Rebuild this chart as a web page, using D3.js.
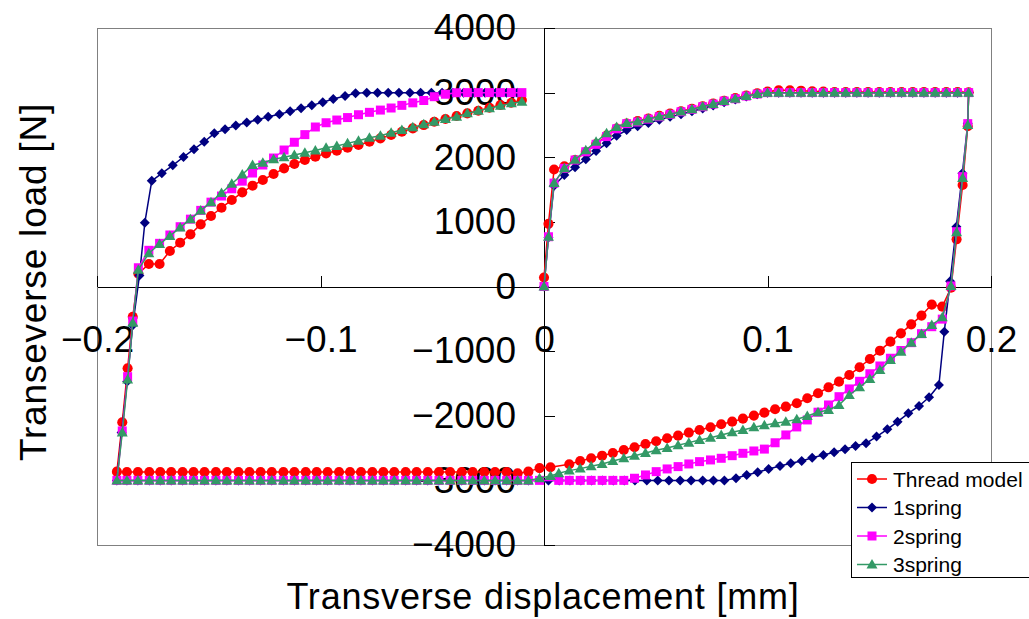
<!DOCTYPE html>
<html>
<head>
<meta charset="utf-8">
<script src="https://cdn.jsdelivr.net/npm/d3@7"></script>
<style>
  body { margin: 0; background: #fff; }
  svg { display: block; }
  text { font-family: "Liberation Sans", Arial, sans-serif; fill: #000; }
</style>
</head>
<body>
<svg id="chart" width="1029" height="619"></svg>
<script>
// ---- Legend / series names --------------------------------------------
const seriesNames = ["Thread model", "1spring", "2spring", "3spring"];
const seriesColors = ["#ff0000", "#000080", "#ff00ff", "#339966"];
const seriesShapes = ["circle", "diamond", "square", "triangle"];

// ---- Axis ticks ---------------------------------------------------------
const xTicks = [-0.2, -0.1, 0, 0.1, 0.2];
const xTickLabels = ["\u22120.2", "\u22120.1", "0", "0.1", "0.2"];
const yTicks = [-4000, -3000, -2000, -1000, 0, 1000, 2000, 3000, 4000];
const yTickLabels = ["\u22124000", "\u22123000", "\u22122000", "\u22121000", "0", "1000", "2000", "3000", "4000"];

// ---- Displacement [mm] for each branch of the loop ---------------------
// first loading, 0 -> +0.19
const loadDisp = [0, 0.002, 0.0045, 0.0091, 0.0139, 0.0187, 0.0233, 0.028, 0.0325, 0.037,
  0.0419, 0.0467, 0.0516, 0.0564, 0.0613, 0.0662, 0.071, 0.0757, 0.0806, 0.0856,
  0.0905, 0.0954, 0.1, 0.105, 0.11, 0.115, 0.12, 0.125, 0.13, 0.135,
  0.14, 0.145, 0.15, 0.155, 0.16, 0.165, 0.17, 0.175, 0.18, 0.185, 0.19];
// unloading from +0.19 back to 0
const unloadDisp = [0.1896, 0.1873, 0.1846, 0.1821, 0.1782, 0.1735, 0.1689, 0.1643, 0.1597, 0.155,
  0.1503, 0.1458, 0.1412, 0.1366, 0.132, 0.1273, 0.1226, 0.1178, 0.1131, 0.1082,
  0.1034, 0.0986, 0.0939, 0.089, 0.0842, 0.0793, 0.0745, 0.0696, 0.0648, 0.06,
  0.0551, 0.0502, 0.0454, 0.0405, 0.0357, 0.0308, 0.026, 0.0211, 0.0162, 0.0113,
  0.0066, 0.0029, -0.002];
const unloadDisp1 = [0.1896, 0.1872, 0.1845, 0.1817, 0.1791, 0.1767, 0.1723, 0.1678, 0.163, 0.1582,
  0.1536, 0.1488, 0.1441, 0.1394, 0.1347, 0.1298, 0.125, 0.12, 0.1153, 0.1104,
  0.1056, 0.1005, 0.0956, 0.0907, 0.0859, 0.0807, 0.0758, 0.071, 0.0658, 0.0609,
  0.0559, 0.0509, 0.046, 0.0407, 0.0359, 0.031, 0.0262, 0.0213, 0.0165, 0.0116,
  0.0068, 0.002];
// negative side, sliding at the load limit
const flatDisp = [-0.007, -0.0118, -0.0167, -0.0219, -0.0267, -0.0319, -0.0368, -0.042, -0.047, -0.052,
  -0.057, -0.0619, -0.067, -0.0719, -0.0768, -0.0819, -0.0868, -0.0917, -0.0968, -0.1017,
  -0.1066, -0.1117, -0.1166, -0.1218, -0.1268, -0.1318, -0.1367, -0.1419, -0.1468, -0.1519,
  -0.1568, -0.1617, -0.1668, -0.1717, -0.1766, -0.1817, -0.1866, -0.1911];
// reloading from -0.19 back towards 0
const reloadDisp = [-0.1887, -0.1863, -0.184, -0.1815, -0.1768, -0.172, -0.1674, -0.1628, -0.1582, -0.1536,
  -0.149, -0.1443, -0.1397, -0.135, -0.1304, -0.1258, -0.121, -0.1163, -0.1117, -0.107,
  -0.1023, -0.0975, -0.0927, -0.0879, -0.083, -0.0781, -0.0732, -0.0684, -0.0636, -0.0587,
  -0.0538, -0.0491, -0.0441, -0.0391, -0.0343, -0.0294, -0.0244, -0.0195, -0.0146, -0.0099];
const reloadDisp1 = [-0.189, -0.1865, -0.184, -0.181, -0.1786, -0.1755, -0.171, -0.1661, -0.1613, -0.1566,
  -0.152, -0.1475, -0.1427, -0.1379, -0.133, -0.1281, -0.1234, -0.1184, -0.1136, -0.1087,
  -0.1039, -0.099, -0.0943, -0.089, -0.0843, -0.0793, -0.0745, -0.0697, -0.0649, -0.06,
  -0.0552, -0.0504, -0.0456, -0.0408, -0.036, -0.0312, -0.0264, -0.0216, -0.0168, -0.012];

// ---- Transverse load [N] -------------------------------------------------
// Thread model
const threadLoad = [140, 970, 1810, 1860, 1955, 2080, 2205, 2335, 2445, 2520,
  2560, 2600, 2640, 2675, 2712, 2750, 2790, 2830, 2875, 2915,
  2955, 2990, 3015, 3035, 3035, 3030, 3020, 3015, 3010, 3010,
  3010, 3010, 3010, 3010, 3010, 3010, 3010, 3010, 3010, 3010, 3005];
const threadUnload = [2480, 1570, 730, -20, -312, -280, -450, -586, -725, -853,
  -993, -1122, -1250, -1369, -1472, -1560, -1652, -1730, -1807, -1859,
  -1900, -1952, -1998, -2045, -2091, -2132, -2178, -2220, -2261, -2308,
  -2349, -2395, -2437, -2488, -2530, -2576, -2618, -2658, -2700, -2751,
  null, -2797, -2810];
const threadFlat = [-2865, -2890, -2870, -2870, -2870, -2870, -2870, -2870, -2870, -2870,
  -2870, -2870, -2870, -2870, -2870, -2870, -2870, -2870, -2870, -2870,
  -2870, -2870, -2870, -2870, -2870, -2870, -2870, -2870, -2870, -2870,
  -2870, -2870, -2870, -2870, -2870, -2870, -2870, -2865];
const threadReload = [-2100, -1265, -470, 200, 348, 348, 549, 678, 807, 962,
  1091, 1219, 1338, 1457, 1560, 1648, 1740, 1828, 1895, 1957,
  2008, 2060, 2101, 2148, 2189, 2240, 2292, 2344, 2395, 2447,
  2498, 2550, 2591, 2638, 2679, 2720, 2766, 2808, 2843, 2885];

// 1spring
const spring1Load = [0, 760, 1560, 1725, 1845, 1968, 2096, 2215, 2333, 2421,
  2480, 2530, 2580, 2625, 2665, 2710, 2755, 2800, 2850, 2895,
  2940, 2975, 3000, 3000, 3000, 3000, 3000, 3000, 3000, 3000,
  3000, 3000, 3000, 3000, 3000, 3000, 3000, 3000, 3000, 3000, 3000];
const spring1Unload = [2525, 1751, 925, 80, -699, -1524, -1714, -1849, -1962, -2091,
  -2210, -2323, -2426, -2468, -2519, -2566, -2607, -2649, -2700, -2735,
  -2777, -2825, -2874, -2916, -2967, -3000, -3000, -3000, -3000, -3000,
  -3000, -3000, -3000, -3000, -3000, -3000, -3000, -3000, -3000, -3000,
  -3000, -3000];
const spring1Flat = [-3000, -3000, -3000, -3000, -3000, -3000, -3000, -3000, -3000, -3000,
  -3000, -3000, -3000, -3000, -3000, -3000, -3000, -3000, -3000, -3000,
  -3000, -3000, -3000, -3000, -3000, -3000, -3000, -3000, -3000, -3000,
  -3000, -3000, -3000, -3000, -3000, -3000, -3000, -3000];
const spring1Reload = [-2260, -1470, -600, 170, 987, 1635, 1751, 1875, 2004, 2125,
  2240, 2370, 2434, 2490, 2538, 2581, 2627, 2664, 2710, 2757,
  2803, 2852, 2901, 2947, 2989, 3000, 3000, 3000, 3000, 3000,
  3000, 3000, 3000, 3000, 3000, 3000, 3000, 3000, 3000, 3000];

// 2spring
const spring2Load = [0, 770, 1600, 1828, 1957, 2085, 2200, 2320, 2440, 2520,
  2545, 2590, 2627, 2664, 2704, 2741, 2782, 2823, 2870, 2905,
  2947, 2978, 3000, 3000, 3000, 3000, 3000, 3000, 3000, 3000,
  3000, 3000, 3000, 3000, 3000, 3000, 3000, 3000, 3000, 3000, 3000];
const spring2Unload = [2520, 1700, 848, 8, -505, -622, -730, -869, -990, -1110,
  -1230, -1350, -1467, -1585, -1705, -1833, -1945, -2065, -2173, -2297,
  -2418, -2516, -2545, -2581, -2618, -2658, -2684, -2710, -2746, -2787,
  -2823, -2865, -2916, -2967, -3000, -3000, -3000, -3000, -3000, -3000,
  -3000, null, -3000];
const spring2Flat = [-3000, -3000, -3000, -3000, -3000, -3000, -3000, -3000, -3000, -3000,
  -3000, -3000, -3000, -3000, -3000, -3000, -3000, -3000, -3000, -3000,
  -3000, -3000, -3000, -3000, -3000, -3000, -3000, -3000, -3000, -3000,
  -3000, -3000, -3000, -3000, -3000, -3000, -3000, -3000];
const spring2Reload = [-2235, -1395, -534, 290, 560, 668, 797, 925, 1042, 1178,
  1305, 1400, 1512, 1630, 1756, 1880, 1988, 2112, 2232, 2350,
  2468, 2534, 2576, 2614, 2658, 2695, 2730, 2762, 2803, 2842,
  2878, 2937, 2975, 2998, 3000, 3000, 3000, 3000, 3000, 3000];

// 3spring
const spring3Load = [0, 770, 1600, 1830, 1962, 2110, 2240, 2370, 2470, 2530,
  2555, 2595, 2630, 2666, 2706, 2743, 2784, 2825, 2872, 2907,
  2948, 2980, 3000, 3000, 3000, 3000, 3000, 3000, 3000, 3000,
  3000, 3000, 3000, 3000, 3000, 3000, 3000, 3000, 3000, 3000, 3000];
const spring3Unload = [2500, 1680, 840, 8, -477, -596, -735, -869, -1009, -1137,
  -1292, -1431, -1560, -1679, -1833, -1911, -1947, -2003, -2055, -2091,
  -2117, -2148, -2178, -2220, -2256, -2297, -2339, -2375, -2416, -2457,
  -2498, -2534, -2576, -2618, -2658, -2700, -2746, -2782, -2818, -2849,
  -2890, -2931, -2967];
const spring3Flat = [-3000, -3000, -3000, -3000, -3000, -3000, -3000, -3000, -3000, -3000,
  -3000, -3000, -3000, -3000, -3000, -3000, -3000, -3000, -3000, -3000,
  -3000, -3000, -3000, -3000, -3000, -3000, -3000, -3000, -3000, -3000,
  -3000, -3000, -3000, -3000, -3000, -3000, -3000, -3000];
const spring3Reload = [-2260, -1440, -560, 260, 514, 657, 781, 912, 1042, 1175,
  1305, 1446, 1590, 1732, 1880, 1915, 1968, 1999, 2034, 2070,
  2106, 2148, 2173, 2215, 2256, 2302, 2333, 2380, 2421, 2463,
  2509, 2550, 2591, 2627, 2679, 2720, 2757, 2797, 2834, 2860];

// ---- Build the loops -------------------------------------------------------
function branchPoints(disp, load) {
  return disp.map((d, i) => [d, load[i]]).filter(p => p[1] !== null);
}
function loop(branches) {
  return branches.flatMap(([d, l]) => branchPoints(d, l));
}
const seriesPoints = [
  loop([[loadDisp, threadLoad], [unloadDisp, threadUnload], [flatDisp, threadFlat], [reloadDisp, threadReload]]),
  loop([[loadDisp, spring1Load], [unloadDisp1, spring1Unload], [flatDisp, spring1Flat], [reloadDisp1, spring1Reload]]),
  loop([[loadDisp, spring2Load], [unloadDisp, spring2Unload], [flatDisp, spring2Flat], [reloadDisp, spring2Reload]]),
  loop([[loadDisp, spring3Load], [unloadDisp, spring3Unload], [flatDisp, spring3Flat], [reloadDisp, spring3Reload]])
];

// ---- Layout ---------------------------------------------------------------
const svg = d3.select("#chart");
const plot = { left: 97, right: 991, top: 28, bottom: 545 };

const x = d3.scaleLinear().domain([-0.2, 0.2]).range([plot.left, plot.right]);
const y = d3.scaleLinear().domain([-4000, 4000]).range([plot.bottom, plot.top]);

// plot area frame
svg.append("rect")
  .attr("x", plot.left + 0.5).attr("y", plot.top + 0.5)
  .attr("width", plot.right - plot.left).attr("height", plot.bottom - plot.top)
  .attr("fill", "#fff").attr("stroke", "#808080").attr("stroke-width", 1);

// axes crossing at the origin
const xAxis = d3.axisBottom(x)
  .tickValues(xTicks)
  .tickFormat((d, i) => xTickLabels[i])
  .tickSizeInner(-11).tickSizeOuter(0).tickPadding(39);
const yAxis = d3.axisLeft(y)
  .tickValues(yTicks)
  .tickFormat((d, i) => yTickLabels[i])
  .tickSizeInner(-11).tickSizeOuter(0).tickPadding(28);

const gx = svg.append("g").attr("transform", `translate(0,${y(0)})`).call(xAxis);
const gy = svg.append("g").attr("transform", `translate(${x(0)},0)`).call(yAxis);
[gx, gy].forEach(g => {
  g.attr("font-family", null).attr("font-size", null);
  g.selectAll("path, line").attr("stroke", "#000").attr("stroke-width", 1).attr("shape-rendering", "crispEdges");
  g.selectAll("text").attr("font-size", 37).attr("fill", "#000");
});

// axis titles
svg.append("text")
  .attr("transform", "translate(46,282) rotate(-90)")
  .attr("text-anchor", "middle")
  .attr("font-size", 37).attr("letter-spacing", 0.8)
  .text("Transeverse load [N]");
svg.append("text")
  .attr("x", 543).attr("y", 609)
  .attr("text-anchor", "middle")
  .attr("font-size", 36).attr("letter-spacing", 0.8)
  .text("Transverse displacement [mm]");

// ---- Markers ------------------------------------------------------------------
const shapePaths = {
  circle: d3.symbol(d3.symbolCircle, 80)(),
  diamond: "M0,-5L5,0L0,5L-5,0Z",
  square: d3.symbol(d3.symbolSquare, 81)(),
  triangle: "M0,-5.5L5.5,4L-5.5,4Z"
};

const line = d3.line().x(d => x(d[0])).y(d => y(d[1]));

seriesPoints.forEach((pts, i) => {
  const g = svg.append("g");
  g.append("path")
    .attr("d", line(pts))
    .attr("fill", "none")
    .attr("stroke", seriesColors[i])
    .attr("stroke-width", 1.5)
    .attr("stroke-linejoin", "round");
  g.selectAll("path.marker")
    .data(pts)
    .join("path")
    .attr("class", "marker")
    .attr("d", shapePaths[seriesShapes[i]])
    .attr("transform", d => `translate(${x(d[0])},${y(d[1])})`)
    .attr("fill", seriesColors[i]);
});

// ---- Legend ---------------------------------------------------------------------
const legend = svg.append("g").attr("transform", "translate(851,462)");
legend.append("rect")
  .attr("x", 0.5).attr("y", 0.5)
  .attr("width", 190).attr("height", 115)
  .attr("fill", "#fff").attr("stroke", "#000").attr("stroke-width", 1);
const rows = legend.selectAll("g.row")
  .data(seriesNames)
  .join("g")
  .attr("class", "row")
  .attr("transform", (d, i) => `translate(0,${17 + i * 28.5})`);
rows.append("line")
  .attr("x1", 6).attr("x2", 36).attr("y1", 0).attr("y2", 0)
  .attr("stroke", (d, i) => seriesColors[i]).attr("stroke-width", 1.5);
rows.append("path")
  .attr("d", (d, i) => shapePaths[seriesShapes[i]])
  .attr("transform", "translate(21,0)")
  .attr("fill", (d, i) => seriesColors[i]);
rows.append("text")
  .attr("x", 42).attr("y", 0).attr("dy", "0.36em")
  .attr("font-size", 21)
  .text(d => d);
</script>
</body>
</html>
